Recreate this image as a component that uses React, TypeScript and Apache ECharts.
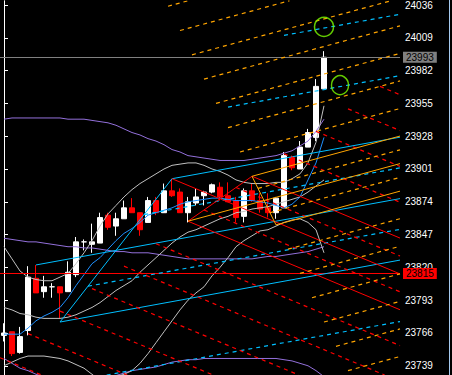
import React, { useEffect, useRef } from 'react';
import * as echarts from 'echarts';

// ---- data ----
const slots: string[] = Array.from({ length: 50 }, (_, i) => String(i));
const yTicks = [23739, 23766, 23793, 23820, 23847, 23874, 23901, 23928, 23955, 23982, 24009, 24036];
const bidPrice = 23993;
const alertPrice = 23815;

// [open, close, low, high]
const candles: number[][] = [
  [23764, 23766, 23759, 23774], [23767, 23749, 23747, 23767], [23750, 23763, 23749, 23771],
  [23768, 23812, 23764, 23821], [23811, 23799, 23799, 23822], [23800, 23804, 23795, 23813],
  [23804, 23804, 23795, 23807], [23804, 23799, 23778, 23804], [23800, 23816, 23800, 23825],
  [23814, 23841, 23812, 23845], [23841, 23841, 23834, 23843], [23839, 23841, 23832, 23856],
  [23840, 23861, 23840, 23865], [23863, 23853, 23851, 23865], [23854, 23860, 23846, 23865],
  [23860, 23869, 23860, 23875], [23869, 23865, 23865, 23877], [23865, 23851, 23846, 23865],
  [23857, 23875, 23857, 23878], [23875, 23865, 23863, 23878], [23865, 23883, 23865, 23889],
  [23883, 23879, 23878, 23893], [23882, 23865, 23865, 23885], [23865, 23874, 23857, 23878],
  [23873, 23878, 23871, 23885], [23879, 23882, 23871, 23883], [23882, 23888, 23881, 23889],
  [23886, 23878, 23875, 23890], [23879, 23874, 23874, 23890], [23875, 23861, 23857, 23878],
  [23862, 23883, 23857, 23885], [23883, 23875, 23874, 23889], [23875, 23868, 23865, 23881],
  [23869, 23865, 23861, 23881], [23865, 23877, 23860, 23878], [23869, 23912, 23869, 23915],
  [23910, 23902, 23900, 23912], [23901, 23919, 23901, 23924], [23919, 23931, 23919, 23934],
  [23927, 23969, 23924, 23975], [23967, 23993, 23967, 23998],
];

const bbUpper = [23837, 23827, 23817, 23812, 23810, 23809, 23809, 23812, 23815, 23823, 23832, 23842, 23854, 23864, 23871, 23878, 23884, 23889, 23893, 23897, 23901, 23904, 23905, 23906, 23906, 23904, 23901, 23899, 23896, 23892, 23890, 23889, 23889, 23889, 23890, 23890, 23893, 23897, 23906, 23923, 23953];
const bbMiddle = [23787, 23785, 23782, 23781, 23779, 23778, 23778, 23778, 23779, 23781, 23784, 23787, 23791, 23796, 23801, 23805, 23809, 23816, 23822, 23828, 23834, 23840, 23845, 23849, 23851, 23854, 23857, 23860, 23862, 23865, 23866, 23868, 23869, 23870, 23872, 23874, 23876, 23878, 23882, 23887, 23892];
const bbLower = [23739, 23742, 23745, 23747, 23747, 23747, 23746, 23745, 23743, 23740, 23737, 23732, 23727, 23727, 23730, 23732, 23735, 23741, 23749, 23758, 23767, 23776, 23785, 23793, 23799, 23804, 23813, 23820, 23828, 23837, 23842, 23846, 23850, 23851, 23854, 23857, 23859, 23860, 23857, 23851, 23832];
const envUpper = [23942, 23943, 23943, 23943, 23943, 23943, 23943, 23943, 23942, 23942, 23942, 23941, 23940, 23939, 23937, 23934, 23931, 23929, 23926, 23924, 23921, 23917, 23915, 23912, 23911, 23910, 23909, 23908, 23908, 23908, 23908, 23909, 23910, 23911, 23912, 23914, 23916, 23920, 23924, 23932, 23942];
const envMiddle = [23844, 23843, 23842, 23841, 23841, 23840, 23839, 23838, 23837, 23837, 23836, 23836, 23835, 23834, 23833, 23833, 23832, 23832, 23832, 23831, 23830, 23829, 23828, 23827, 23827, 23827, 23827, 23827, 23827, 23827, 23827, 23827, 23828, 23829, 23829, 23830, 23831, 23832, 23833, 23835, 23837];
const envLower = [23745, 23741, 23737, 23735, 23732, 23730, 23729, 23727, 23726, 23726, 23726, 23726, 23728, 23730, 23731, 23733, 23735, 23736, 23737, 23738, 23740, 23742, 23743, 23744, 23744, 23745, 23745, 23745, 23745, 23745, 23745, 23745, 23745, 23745, 23745, 23744, 23743, 23741, 23739, 23735, 23730];
const maLine = [23765, 23765, 23765, 23770, 23776, 23780, 23783, 23787, 23795, 23805, 23814, 23823, 23828, 23835, 23842, 23848, 23852, 23857, 23863, 23865, 23867, 23869, 23872, 23874, 23875, 23876, 23877, 23877, 23876, 23875, 23875, 23875, 23874, 23873, 23871, 23869, 23872, 23878, 23892, 23906, 23927];

// pitchfork anchor points [bar index, price]
const pivotA = [4, 23822];
const pivotB = [7, 23775];
const pivotC = [21, 23893];
const pivotD = [23, 23858];
const pivotE = [31, 23895];
const pivotF = [34, 23855];

const cyanDashLevels = [-2, -0.5, 0.5, 2, 3];
const redDashLevels = [-7, -6, -5, -4, -3, -2, -0.5, 0.5, 2, 3, 4, 5];
const orangeDashLevels = [-8, -7, -6, -5, -4, -3, -2, -0.5, 0.5, 2, 3, 4, 5, 6, 7];
const solidLevels = [-1, 0, 1];

const circledPoints = [[40, 24018], [42, 23970]];

// ---- geometry helpers ----
const X_MIN = -0.5, X_MAX = 49.5, Y_MIN = 23731.4, Y_MAX = 24039.5;

function clipSeg(p: number[], q: number[]): number[][] | null {
  let t0 = 0, t1 = 1;
  const dx = q[0] - p[0], dy = q[1] - p[1];
  const ps = [-dx, dx, -dy, dy];
  const qs = [p[0] - X_MIN, X_MAX - p[0], p[1] - Y_MIN, Y_MAX - p[1]];
  for (let i = 0; i < 4; i++) {
    if (ps[i] === 0) {
      if (qs[i] < 0) return null;
    } else {
      const r = qs[i] / ps[i];
      if (ps[i] < 0) { if (r > t1) return null; if (r > t0) t0 = r; }
      else { if (r < t0) return null; if (r < t1) t1 = r; }
    }
  }
  return [[p[0] + t0 * dx, p[1] + t0 * dy], [p[0] + t1 * dx, p[1] + t1 * dy]];
}

function forkLines(p1: number[], p2: number[], p3: number[], levels: number[]) {
  const m = [(p2[0] + p3[0]) / 2, (p2[1] + p3[1]) / 2];
  const dir = [m[0] - p1[0], m[1] - p1[1]];
  const h = [p3[0] - m[0], p3[1] - m[1]];
  const out: { coords: number[][] }[] = [];
  levels.forEach((k) => {
    const s = k === 0 ? p1 : [m[0] + k * h[0], m[1] + k * h[1]];
    const t = (X_MAX + 5 - s[0]) / dir[0];
    const e = [s[0] + t * dir[0], s[1] + t * dir[1]];
    const c = clipSeg(s, e);
    if (c) out.push({ coords: c });
  });
  return out;
}

function connector(p: number[], q: number[]) {
  const c = clipSeg(p, q);
  return c ? [{ coords: c }] : [];
}

const FONT = "'Liberation Sans', Arial, sans-serif";

function linesSeries(data: any[], color: string, dashed: boolean) {
  return {
    type: 'lines',
    coordinateSystem: 'cartesian2d',
    xAxisIndex: 1,
    yAxisIndex: 0,
    polyline: false,
    silent: true,
    z: 5,
    lineStyle: { color, width: dashed ? 1.2 : 1, opacity: 1, type: dashed ? [4, 4] : 'solid' },
    data,
  };
}

function indicator(data: number[], color: string) {
  return {
    type: 'line',
    xAxisIndex: 0,
    yAxisIndex: 0,
    data,
    symbol: 'none',
    showSymbol: false,
    silent: true,
    z: 4,
    lineStyle: { color, width: 1 },
  };
}

export default function App() {
  const ref = useRef<HTMLDivElement>(null);
  useEffect(() => {
    const chart = echarts.init(ref.current as HTMLDivElement, null, { renderer: 'svg' });
    const option: any = {
      animation: false,
      backgroundColor: '#000000',
      grid: { left: -1, right: 52, top: 0, bottom: 0, containLabel: false },
      xAxis: [
        { type: 'category', data: slots, boundaryGap: true, show: false },
        { type: 'value', min: X_MIN, max: X_MAX, show: false },
      ],
      yAxis: {
        type: 'value',
        position: 'right',
        min: Y_MIN,
        max: Y_MAX,
        scale: true,
        splitLine: { show: false },
        axisLine: { show: true, lineStyle: { color: '#ffffff', width: 1 } },
        axisTick: { show: true, inside: false, length: 4, lineStyle: { color: '#ffffff' }, customValues: yTicks },
        axisLabel: {
          show: true,
          color: '#ffffff',
          fontSize: 10,
          fontFamily: FONT,
          margin: 5,
          customValues: yTicks,
          formatter: (v: number) => String(Math.round(v)),
        },
      },
      graphic: [
        { type: 'line', shape: { x1: 449.5, y1: 0, x2: 449.5, y2: 375 }, style: { stroke: '#a6caf0', lineWidth: 1 }, silent: true },
      ],
      series: [
        {
          type: 'candlestick',
          xAxisIndex: 0,
          yAxisIndex: 0,
          data: candles,
          barWidth: 5,
          z: 2,
          silent: true,
          itemStyle: { color: '#ffffff', color0: '#ff0000', borderColor: '#ffffff', borderColor0: '#ff0000', borderWidth: 1 },
          markLine: {
            symbol: 'none',
            silent: true,
            animation: false,
            data: [
              {
                yAxis: bidPrice,
                lineStyle: { color: '#808080', width: 1, type: 'solid' },
                label: {
                  show: true, position: 'end', distance: 3, formatter: String(bidPrice),
                  color: '#000000', backgroundColor: '#808080', padding: [1, 3, 0, 3],
                  fontSize: 10, fontFamily: FONT,
                },
              },
              {
                yAxis: alertPrice,
                lineStyle: { color: '#ff0000', width: 1, type: 'solid' },
                label: {
                  show: true, position: 'end', distance: 3, formatter: String(alertPrice),
                  color: '#000000', backgroundColor: '#ff0000', padding: [1, 3, 0, 3],
                  fontSize: 10, fontFamily: FONT,
                },
              },
            ],
          },
        },
        indicator(envUpper, '#9370db'),
        indicator(envMiddle, '#9370db'),
        indicator(envLower, '#9370db'),
        indicator(bbUpper, '#c0c0c0'),
        indicator(bbMiddle, '#c0c0c0'),
        indicator(bbLower, '#c0c0c0'),
        indicator(maLine, '#1e90ff'),
        linesSeries(forkLines(pivotA, pivotB, pivotC, cyanDashLevels), '#00bfff', true),
        linesSeries([...forkLines(pivotA, pivotB, pivotC, solidLevels), ...connector(pivotB, pivotC)], '#00bfff', false),
        linesSeries(forkLines(pivotC, pivotD, pivotE, redDashLevels), '#ff0000', true),
        linesSeries([...forkLines(pivotC, pivotD, pivotE, solidLevels), ...connector(pivotD, pivotE)], '#ff0000', false),
        linesSeries(forkLines(pivotD, pivotE, pivotF, orangeDashLevels), '#ffa500', true),
        linesSeries([...forkLines(pivotD, pivotE, pivotF, solidLevels), ...connector(pivotE, pivotF)], '#ffa500', false),
        {
          type: 'scatter',
          xAxisIndex: 1,
          yAxisIndex: 0,
          silent: true,
          z: 6,
          symbol: 'circle',
          symbolSize: (_v: any, p: any) => (p.dataIndex === 0 ? [19, 19] : [17, 19]),
          itemStyle: { color: 'rgba(0,0,0,0)', borderColor: '#7cfc00', borderWidth: 1.5 },
          data: circledPoints,
        },
      ],
    };
    chart.setOption(option);
    return () => chart.dispose();
  }, []);
  return (
    <div
      ref={ref}
      style={{ position: 'absolute', left: 0, top: 0, width: 452, height: 375, background: '#000' }}
    />
  );
}
